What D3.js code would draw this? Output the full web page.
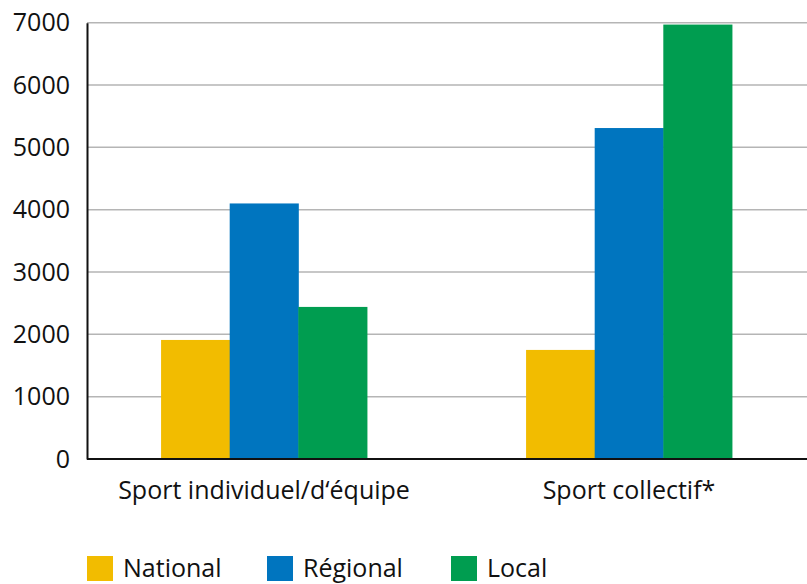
<!DOCTYPE html>
<html><head><meta charset="utf-8">
<script src="https://cdn.jsdelivr.net/npm/d3@7"></script>
<style>body{margin:0;background:#fff}svg{display:block}text{font-family:"Open Sans",sans-serif;fill:#111}</style>
</head><body><svg id="c" width="807" height="584"></svg>
<script>
const categories = ["Sport individuel/d\u2018équipe", "Sport collectif*"];
const seriesNames = ["National", "Régional", "Local"];
const national = [1910, 1750];
const regional = [4100, 5310];
const local = [2440, 6970];
const yTicks = [0, 1000, 2000, 3000, 4000, 5000, 6000, 7000];
const colors = ["#F2BC00", "#0075BF", "#009D50"];

(function () {
const seriesValues = [national, regional, local];
const svg = d3.select("#c");
const mLeft = 87, mRight = 807, mTop = 22.7, mBottom = 459;
const fs = 25;
const y = d3.scaleLinear().domain([0, 7000]).range([mBottom, mTop]);
const x0 = d3.scaleBand().domain(categories).range([81.5, 811.5]).paddingInner(0.436).paddingOuter(0.218);
const x1 = d3.scaleBand().domain(seriesNames).range([0, x0.bandwidth()]);

// gridlines
svg.append("g").selectAll("line").data(yTicks.filter(d => d > 0)).join("line")
  .attr("x1", mLeft).attr("x2", mRight).attr("y1", d => y(d)).attr("y2", d => y(d))
  .attr("stroke", "#b5b5b5").attr("stroke-width", 1.5);

// bars
const g = svg.append("g");
categories.forEach((c, ci) => {
  seriesNames.forEach((s, si) => {
    g.append("rect")
      .attr("x", x0(c) + x1(s)).attr("width", x1.bandwidth() + 0.5)
      .attr("y", y(seriesValues[si][ci])).attr("height", y(0) - y(seriesValues[si][ci]))
      .attr("fill", colors[si]);
  });
});

// y axis
const yAxis = d3.axisLeft(y).tickValues(yTicks).tickSize(0).tickPadding(17).tickFormat(d3.format("d"));
const ya = svg.append("g").attr("transform", `translate(${mLeft},0)`).call(yAxis);
ya.select(".domain").attr("stroke", "#111").attr("stroke-width", 2);
ya.selectAll("text").attr("font-size", fs).attr("font-family", "'Open Sans',sans-serif").attr("fill", "#111");

// x axis
const xAxis = d3.axisBottom(x0).tickSize(0).tickPadding(22);
const xa = svg.append("g").attr("transform", `translate(0,${mBottom})`).call(xAxis);
xa.select(".domain").remove();
svg.append("line").attr("x1", mLeft).attr("x2", mRight).attr("y1", mBottom).attr("y2", mBottom).attr("stroke", "#111").attr("stroke-width", 2);
xa.selectAll("text").attr("font-size", fs).attr("font-family", "'Open Sans',sans-serif").attr("fill", "#111");

// legend
const legendX = [87, 267, 451];
const lg = svg.append("g");
seriesNames.forEach((s, i) => {
  lg.append("rect").attr("x", legendX[i]).attr("y", 556).attr("width", 26).attr("height", 25).attr("fill", colors[i]);
  lg.append("text").attr("x", legendX[i] + 36).attr("y", 577).attr("font-size", fs).text(s);
});
})();
</script></body></html>
